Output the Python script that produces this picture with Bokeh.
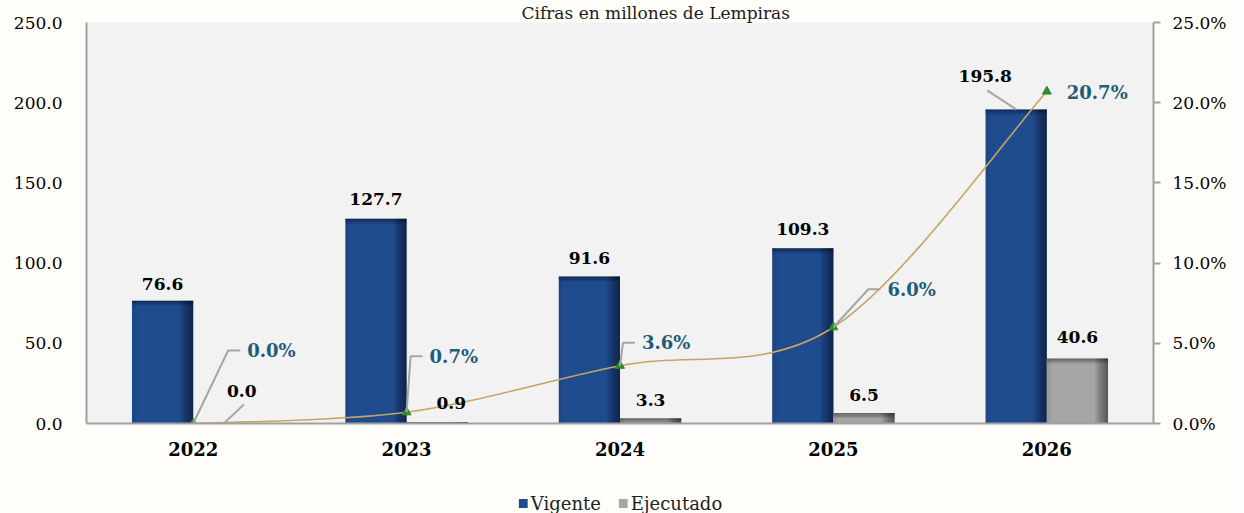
from bokeh.plotting import figure
from bokeh.layouts import column
from bokeh.models import Range1d, LinearAxis, FixedTicker, Legend, LegendItem, ColumnDataSource
from bokeh.core.properties import value
from bokeh.embed import file_html
from bokeh.resources import INLINE

# ---- data ----
years = ["2022", "2023", "2024", "2025", "2026"]
vigente = [76.6, 127.7, 91.6, 109.3, 195.8]
ejecutado = [0.0, 0.9, 3.3, 6.5, 40.6]
pct = [0.0, 0.7, 3.6, 6.0, 20.7]
left_ticks = [0, 50, 100, 150, 200, 250]
right_ticks = [0, 5, 10, 15, 20, 25]
title_text = "Cifras en millones de Lempiras"
series_names = ["Vigente", "Ejecutado"]

# ---- layout constants ----
FW, FH = 1067, 401
Y_MAX, P_MAX = 250, 25
PX_X = len(years) / FW
PX_Y = Y_MAX / FH
PX_P = P_MAX / FH
BW = 0.287
FONT = "DejaVu Serif"
BLUE = "#1F4B8F"
GREY = "#A6A6A6"
AXIS_GREY = "#A0A0A0"
PCT_COLOR = "#1F5C7A"
PAGE_BG = "#FFFEFB"

xs = [i + 0.5 for i in range(len(years))]
xv = [x - BW / 2 for x in xs]
xe = [x + BW / 2 for x in xs]

p = figure(frame_width=FW, frame_height=FH,
           x_range=Range1d(0, len(years)), y_range=Range1d(0, Y_MAX),
           output_backend="svg", toolbar_location=None,
           min_border_left=86, min_border_right=88, min_border_top=22, min_border_bottom=70,
           background_fill_color="#F2F2F2", border_fill_color=PAGE_BG,
           outline_line_color=None)
p.extra_y_ranges = {"pct": Range1d(0, P_MAX)}

p.title.text = title_text
p.title.align = "left"
p.title.offset = 435
p.title.standoff = 0
p.title.text_font = FONT
p.title.text_font_style = "normal"
p.title.text_font_size = "17px"
p.title.text_line_height = 1.0
p.title.text_color = "#1A1A1A"

p.xgrid.visible = False
p.ygrid.visible = False

# axes
xa = p.xaxis[0]
xa.ticker = FixedTicker(ticks=xs)
xa.major_label_overrides = {x: y for x, y in zip(xs, years)}
xa.major_tick_line_color = None
xa.minor_tick_line_color = None
xa.axis_line_color = AXIS_GREY
xa.axis_line_width = 2
xa.major_label_text_font = FONT
xa.major_label_text_font_style = "bold"
xa.major_label_text_font_size = "18px"
xa.major_label_standoff = 12
xa.major_label_text_color = "#000000"

ya = p.yaxis[0]
ya.ticker = FixedTicker(ticks=left_ticks)
ya.major_label_overrides = {t: f"{t:.1f}" for t in left_ticks}
ya.major_tick_line_color = None
ya.minor_tick_line_color = None
ya.axis_line_color = AXIS_GREY
ya.axis_line_width = 2
ya.major_label_text_font = FONT
ya.major_label_text_font_size = "17px"
ya.major_label_standoff = 18
ya.major_label_text_color = "#000000"

ra = LinearAxis(y_range_name="pct", ticker=FixedTicker(ticks=right_ticks))
ra.major_label_overrides = {t: f"{t:.1f}%" for t in right_ticks}
ra.major_tick_out = 7
ra.major_tick_in = 0
ra.major_tick_line_color = AXIS_GREY
ra.major_tick_line_width = 2
ra.minor_tick_line_color = None
ra.axis_line_color = AXIS_GREY
ra.axis_line_width = 2
ra.major_label_text_font = FONT
ra.major_label_text_font_size = "17px"
ra.major_label_standoff = 12
ra.major_label_text_color = "#000000"
p.add_layout(ra, "right")

# ---- bars with inner shading ----
def shaded_bars(xc, tops, color):
    r = p.vbar(x=xc, top=tops, width=BW, fill_color=color, line_color=None)
    n = 6
    sw = BW * 0.035
    for k in range(n):
        w = (k + 1) * sw
        p.vbar(x=[x + BW / 2 - w / 2 for x in xc], top=tops, width=w,
               fill_color="black", fill_alpha=0.09, line_color=None)
    for k in range(4):
        h = (k + 1) * 1.3 * PX_Y
        p.vbar(x=xc, top=tops, bottom=[max(0, t - h) for t in tops], width=BW,
               fill_color="black", fill_alpha=0.1, line_color=None)
    p.vbar(x=[x - BW / 2 + sw for x in xc], top=tops, width=2 * sw,
           fill_color="black", fill_alpha=0.06, line_color=None)
    return r

shaded_bars(xv, vigente, BLUE)
shaded_bars(xe, ejecutado, GREY)

# ---- smoothed line (Bezier rendering of the series) ----
seg = dict(x0=[], y0=[], x1=[], y1=[], cx0=[], cy0=[], cx1=[], cy1=[])
n = len(xs)
for i in range(n - 1):
    a = max(i - 1, 0); d = min(i + 2, n - 1)
    seg["x0"].append(xs[i]); seg["y0"].append(pct[i])
    seg["x1"].append(xs[i + 1]); seg["y1"].append(pct[i + 1])
    seg["cx0"].append(xs[i] + (xs[i + 1] - xs[a]) / 6)
    seg["cy0"].append(pct[i] + (pct[i + 1] - pct[a]) / 6)
    seg["cx1"].append(xs[i + 1] - (xs[d] - xs[i]) / 6)
    seg["cy1"].append(pct[i + 1] - (pct[d] - pct[i]) / 6)
p.bezier(source=ColumnDataSource(seg), x0="x0", y0="y0", x1="x1", y1="y1",
         cx0="cx0", cy0="cy0", cx1="cx1", cy1="cy1",
         line_color="#C8A464", line_width=1.6, y_range_name="pct")
p.scatter(xs, pct, marker="triangle", size=9, fill_color="#2E8B2E",
          line_color="#2E8B2E", y_range_name="pct")

# ---- value labels ----
lbl_style = dict(text_font=value(FONT), text_font_style="bold", text_font_size="17px",
                 text_align="center", text_baseline="middle", text_color="#000000")

v_dx = [0, 0, 0, 0, -31]
v_dy = [-17, -20, -19, -19, -33]
p.text(source=ColumnDataSource(dict(x=xv, y=vigente, t=[f"{v:.1f}" for v in vigente],
                                    dx=v_dx, dy=v_dy)),
       x="x", y="y", text="t", x_offset="dx", y_offset="dy", **lbl_style)

e_dx = [18, 14, 0, 0, 0]
e_dy = [-33, -19, -18, -18, -21]
p.text(source=ColumnDataSource(dict(x=xe, y=ejecutado, t=[f"{v:.1f}" for v in ejecutado],
                                    dx=e_dx, dy=e_dy)),
       x="x", y="y", text="t", x_offset="dx", y_offset="dy", **lbl_style)

# leaders for displaced bar labels
lead_x, lead_y = [], []
for xc, vals, dxs, dys in ((xv, vigente, v_dx, v_dy), (xe, ejecutado, e_dx, e_dy)):
    for x, v, dx, dy in zip(xc, vals, dxs, dys):
        if abs(dx) >= 15:
            lead_x.append([x + (dx + 2) * PX_X, x])
            lead_y.append([v - (dy + 14) * PX_Y, v])
p.multi_line(lead_x, lead_y, line_color="#A6A6A6", line_width=2)

# percent labels with elbow leaders
p_dx = [54, 23, 22, 54, 20]
p_dy = [-73, -56, -23, -38, 1]
p.text(source=ColumnDataSource(dict(x=xs, y=pct, t=[f"{v:.1f}%" for v in pct],
                                    dx=p_dx, dy=p_dy)),
       x="x", y="y", text="t", x_offset="dx", y_offset="dy",
       text_font=value(FONT), text_font_style="bold", text_font_size="18px",
       text_align="left", text_baseline="middle", text_color=PCT_COLOR,
       y_range_name="pct")
px_l, py_l = [], []
for x, v, dx, dy in zip(xs, pct, p_dx, p_dy):
    if abs(dy) > 10:
        ey = v - dy * PX_P
        px_l.append([x, x + (dx - 19) * PX_X, x + (dx - 7) * PX_X])
        py_l.append([v, ey, ey])
p.multi_line(px_l, py_l, line_color="#A6A6A6", line_width=2, y_range_name="pct")

# ---- legend strip (separate small figure under the chart) ----
leg = figure(width=86 + FW + 88, height=20, x_range=Range1d(0, 1), y_range=Range1d(0, 1),
             output_backend="svg", toolbar_location=None,
             min_border_left=0, min_border_right=0, min_border_top=0, min_border_bottom=0,
             background_fill_color=PAGE_BG, border_fill_color=PAGE_BG,
             outline_line_color=None)
leg.axis.visible = False
leg.xgrid.visible = False
leg.ygrid.visible = False
# proxy renderers for the legend swatches; their single point lies outside the visible range
r_v = leg.vbar(x=[-5], top=[-5], bottom=[-6], width=0.1, fill_color=BLUE, line_color=None)
r_e = leg.vbar(x=[-5], top=[-5], bottom=[-6], width=0.1, fill_color=GREY, line_color=None)
legend = Legend(items=[LegendItem(label=series_names[0], renderers=[r_v]),
                       LegendItem(label=series_names[1], renderers=[r_e])],
                orientation="horizontal", location="center",
                label_text_font=FONT, label_text_font_size="18px", label_text_color="#222222",
                glyph_width=11, glyph_height=11, spacing=16, label_standoff=3,
                label_height=18, background_fill_alpha=0, border_line_color=None,
                padding=0, margin=0)
leg.add_layout(legend)

open("out.html", "w").write(file_html(column(p, leg, spacing=0), INLINE))
